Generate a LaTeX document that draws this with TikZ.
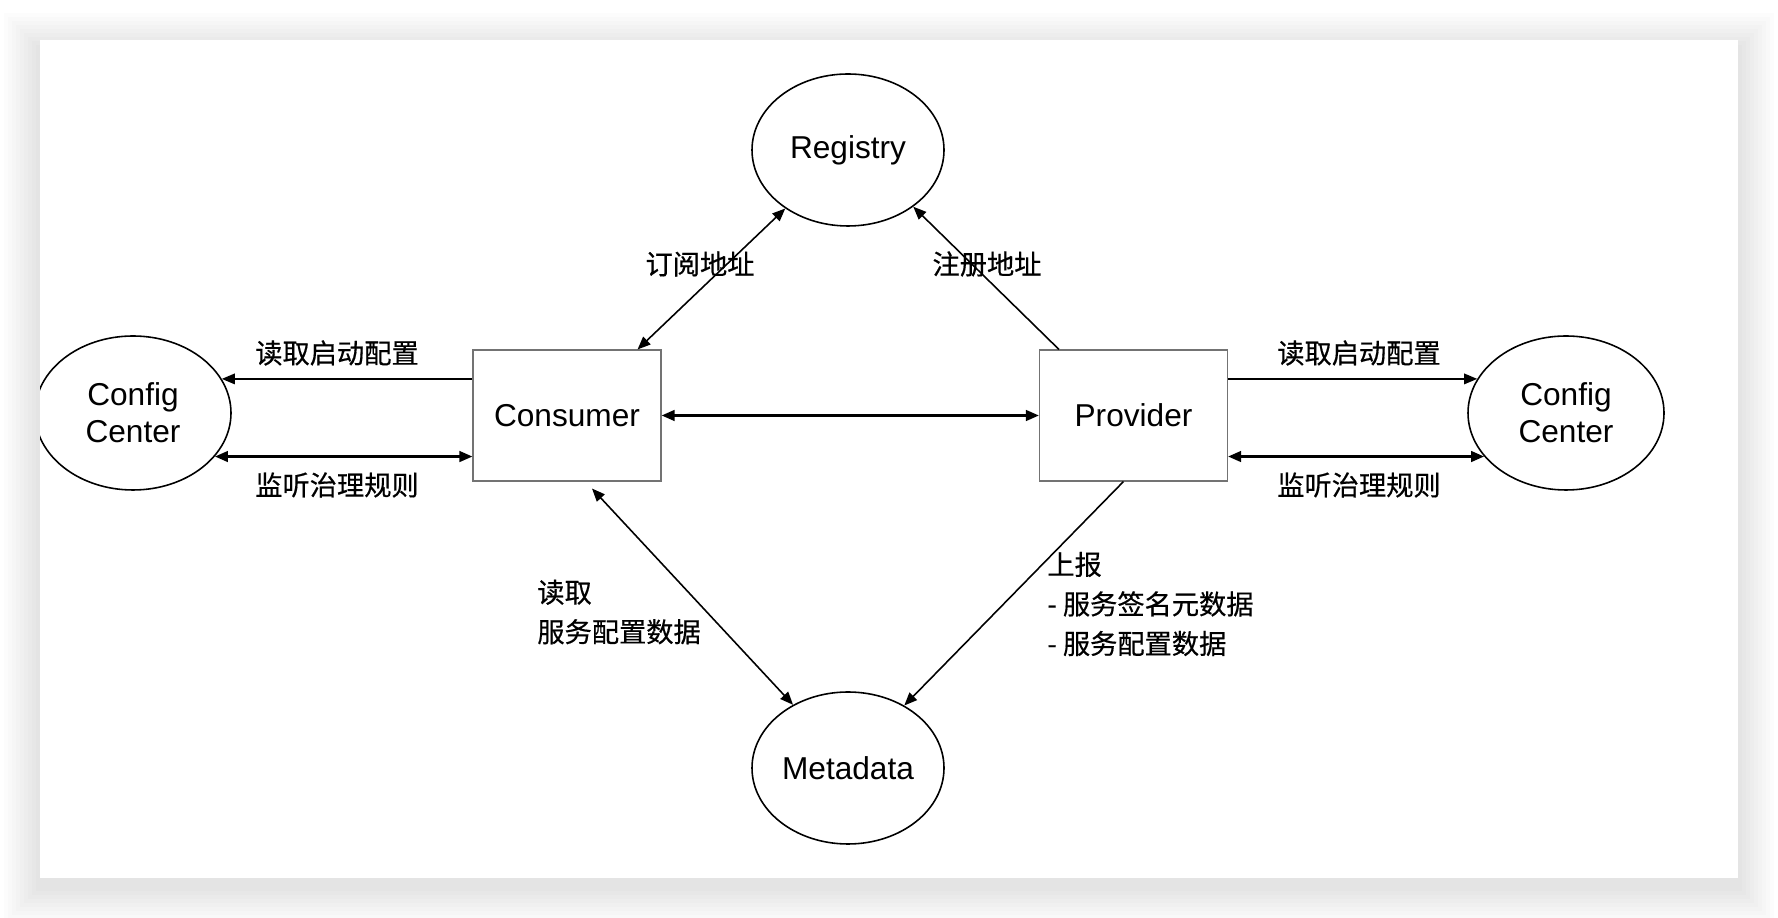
\documentclass[tikz,border=0pt]{standalone}
\usepackage{fontspec}
\setmainfont{Liberation Sans}
\newfontfamily\cjk[FakeBold=0.5]{Noto Sans CJK SC}
\usetikzlibrary{arrows.meta, shapes.geometric}

\begin{document}
\begin{tikzpicture}[>={Triangle[length=2.6mm, width=2.1mm]},
  font=\fontsize{18}{21}\selectfont,
  c/.style={draw, ellipse, line width=0.9pt, inner sep=0pt, minimum width=3.84cm, minimum height=3.04cm, align=center},
  b/.style={draw=black!55, line width=0.6pt, minimum width=3.76cm, minimum height=2.62cm},
  lbl/.style={font=\cjk\fontsize{15.5}{22.5}\selectfont, align=left, inner sep=0pt},
  a/.style={line width=0.9pt}, ta/.style={line width=1.5pt}]
  \useasboundingbox (0,0) rectangle (35.56,18.36);
  % card with soft shadow
  \fill[white] (0,0) rectangle (35.56,18.36);
  \foreach \i in {1,...,9}
    \fill[black, opacity=0.012] (0.8-0.08*\i, 0.62-0.08*\i) rectangle (34.76+0.08*\i, 17.38+0.08*\i);
  \fill[white] (0.8,0.8) rectangle (34.76,17.56);
  \begin{scope}
  \clip (0.8,0.8) rectangle (34.76,17.56);
  \node[c] (reg) at (16.96,15.36) {Registry};
  \node[c, minimum width=3.92cm, minimum height=3.08cm] (ccl) at (2.66,10.10) {Config\\Center};
  \node[c, minimum width=3.92cm, minimum height=3.08cm] (ccr) at (31.32,10.10) {Config\\Center};
  \node[c] (meta) at (16.96,3.0) {Metadata};
  \node[b] (cons) at (11.34,10.05) {Consumer};
  \node[b] (prov) at (22.67,10.05) {Provider};

  \draw[<->, a] ([xshift=-0.48cm]cons.north east) -- (reg.223);
  \draw[->, a] ([xshift=0.4cm]prov.north west) -- (reg.319);
  \draw[<-, a] (ccl.21) -- (ccl.21 -| cons.west);
  \draw[<->, ta] (ccl.-28) -- (ccl.-28 -| cons.west);
  \draw[->, a] (ccr.159 -| prov.east) -- (ccr.159);
  \draw[<->, ta] (ccr.-152 -| prov.east) -- (ccr.-152);
  \draw[<->, ta] (cons) -- (prov);
  \draw[<->, a] ([xshift=0.5cm, yshift=-0.14cm]cons.south) -- (meta.131);
  \draw[->, a] ([xshift=-0.2cm]prov.south) -- (meta.48);

  \node[lbl] (l1) at (14.0,13.08) {订阅地址};
  \node[lbl] (l2) at (19.74,13.08) {注册地址};
  \node[lbl] (l3) at (6.74,11.30) {读取启动配置};
  \node[lbl] (l4) at (6.74,8.66) {监听治理规则};
  \node[lbl] (l5) at (27.18,11.30) {读取启动配置};
  \node[lbl] (l6) at (27.18,8.66) {监听治理规则};
  \node[lbl, anchor=west] (l7) at (10.74,6.12) {读取\\服务配置数据};
  \node[lbl, anchor=west] (l8) at (20.94,6.28) {上报\\- 服务签名元数据\\- 服务配置数据};
  \end{scope}
\end{tikzpicture}
\end{document}
